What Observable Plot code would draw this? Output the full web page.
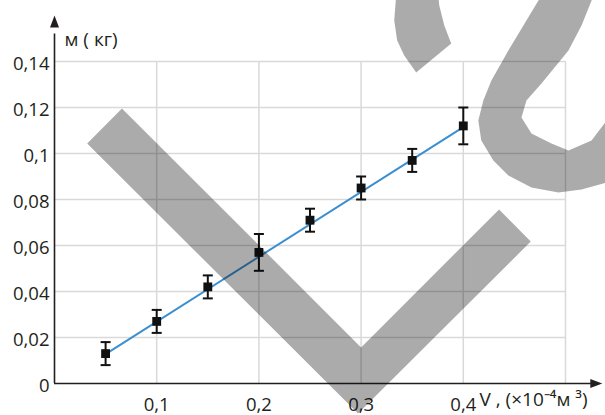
<!DOCTYPE html>
<html>
<head>
<meta charset="utf-8">
<script src="https://cdn.jsdelivr.net/npm/d3@7"></script>
<script src="https://cdn.jsdelivr.net/npm/@observablehq/plot@0.6"></script>
<style>
  html, body { margin: 0; padding: 0; background: #fff; overflow: hidden; }
  svg { font-family: "Open Sans", sans-serif; }
</style>
</head>
<body>
<div id="chart"></div>
<script>
// Data
const volumes = [0.05, 0.1, 0.15, 0.2, 0.25, 0.3, 0.35, 0.4];
const masses  = [0.013, 0.027, 0.042, 0.057, 0.071, 0.085, 0.097, 0.112];
const errors  = [0.005, 0.005, 0.005, 0.008, 0.005, 0.005, 0.005, 0.008];
const fitX = [0.05, 0.4];
const fitY = [0.0128, 0.1115];
const xTicks = [0.1, 0.2, 0.3, 0.4];
const yTicks = [0, 0.02, 0.04, 0.06, 0.08, 0.1, 0.12, 0.14];
const xGrid = [0.1, 0.2, 0.3, 0.4, 0.5];
const yGrid = [0.02, 0.04, 0.06, 0.08, 0.1, 0.12, 0.14];
const yLabel = "м ( кг)";
const xLabel = "V , (×10⁻⁴м ³)";

// Grey watermark shapes (in data units)
const markV = [[0.066,0.1196],[0.3,0.0157],[0.435,0.0757],[0.466,0.0617],[0.297,-0.013],[0.032,0.1043]];
const markS1 = [[0.3343,0.1687],[0.3324,0.1578],[0.3353,0.1491],[0.3422,0.1426],[0.3539,0.1352],[0.3882,0.1478],[0.3814,0.1557],[0.3765,0.1643],[0.3755,0.1687]];
const markS2 = [[0.4765,0.1687],[0.4588,0.1557],[0.4441,0.1448],[0.4275,0.1317],[0.4196,0.1230],[0.4147,0.1143],[0.4176,0.1057],[0.4294,0.0970],[0.4441,0.0904],[0.4667,0.0852],[0.4931,0.0830],[0.5157,0.0843],[0.5402,0.0874],[0.5549,0.0900],
  [0.5549,0.1187],[0.5402,0.1143],[0.5255,0.1057],[0.5029,0.1013],[0.4863,0.1043],[0.4667,0.1087],[0.4569,0.1157],[0.4618,0.1230],[0.4765,0.1304],[0.5029,0.1448],[0.5157,0.1557],[0.5275,0.1687]];

const points = volumes.map((v, i) => ({x: v, y: masses[i], lo: masses[i] - errors[i], hi: masses[i] + errors[i]}));
const fit = fitX.map((x, i) => ({x, y: fitY[i]}));
const shapes = [
  ...markV.map(([x, y]) => ({id: "v", x, y})),
  ...markS1.map(([x, y]) => ({id: "s1", x, y})),
  ...markS2.map(([x, y]) => ({id: "s2", x, y}))
];
const fmt = d => String(d).replace(".", ",");

const capSymbol = {draw(ctx) { ctx.moveTo(-5, 0); ctx.lineTo(5, 0); }};
const arrowUp = {draw(ctx) { ctx.moveTo(0, 0); ctx.lineTo(-4.5, 12); ctx.lineTo(4.5, 12); ctx.closePath(); }};
const arrowRight = {draw(ctx) { ctx.moveTo(0, 0); ctx.lineTo(-12, -4.5); ctx.lineTo(-12, 4.5); ctx.closePath(); }};
const ink = "#231f20";

const chart = Plot.plot({
  width: 605,
  height: 415,
  marginLeft: 54,
  marginRight: 40,
  marginTop: 61,
  marginBottom: 32,
  x: {domain: [0, 0.5], axis: null},
  y: {domain: [0, 0.14], axis: null},
  marks: [
    Plot.ruleX(xGrid, {x: d => d, y1: 0, y2: 0.14, stroke: "#d9d9d9", strokeWidth: 1.5}),
    Plot.ruleY(yGrid, {y: d => d, x1: 0, x2: 0.5, stroke: "#d9d9d9", strokeWidth: 1.5}),
    Plot.ruleY([0], {x1: 0, x2: 0.527, stroke: ink, strokeWidth: 1.6}),
    Plot.ruleX([0], {y1: 0, y2: 0.152, stroke: ink, strokeWidth: 1.6}),
    Plot.dot([{x: 0, y: 0.16}], {x: "x", y: "y", symbol: arrowUp, fill: ink, stroke: "none"}),
    Plot.dot([{x: 0.536, y: 0}], {x: "x", y: "y", symbol: arrowRight, fill: ink, stroke: "none"}),
    Plot.text(yTicks, {x: 0, y: d => d, text: fmt, textAnchor: "end", dx: -5, dy: 3, fontSize: 18.5, fill: ink}),
    Plot.text(xTicks, {x: d => d, y: 0, text: fmt, dy: 22, fontSize: 18.5, fill: ink}),
    Plot.text([yLabel], {frameAnchor: "top-left", text: d => d, textAnchor: "start", dx: 10, dy: -29, fontSize: 19, fill: ink}),
    Plot.text([xLabel], {frameAnchor: "bottom-right", text: d => d, textAnchor: "start", dx: -86, dy: 22, fontSize: 19, fill: ink}),
    Plot.line(fit, {x: "x", y: "y", stroke: "#3b8fd1", strokeWidth: 2}),
    Plot.ruleX(points, {x: "x", y1: "lo", y2: "hi", stroke: "#111", strokeWidth: 2}),
    Plot.dot(points, {x: "x", y: "lo", symbol: capSymbol, stroke: "#111", strokeWidth: 2, fill: "none"}),
    Plot.dot(points, {x: "x", y: "hi", symbol: capSymbol, stroke: "#111", strokeWidth: 2, fill: "none"}),
    Plot.dot(points, {x: "x", y: "y", symbol: "square", r: 5, fill: "#111", stroke: "none"}),
    Plot.line(shapes, {x: "x", y: "y", z: "id", fill: "black", fillOpacity: 0.33, stroke: "none", curve: "linear-closed"})
  ]
});
document.getElementById("chart").appendChild(chart);
</script>
</body>
</html>
